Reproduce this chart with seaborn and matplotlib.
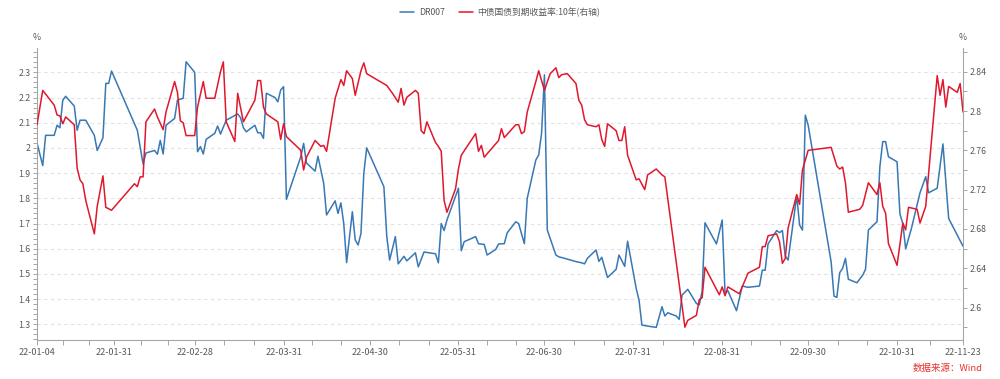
import pandas as pd
import numpy as np
import seaborn as sns
import matplotlib.pyplot as plt
import matplotlib.dates as mdates
import matplotlib.ticker as mticker

# ---- data (2022) ----
dr007_dates = ["01-04", "01-06", "01-07", "01-10", "01-11", "01-12", "01-13", "01-14", "01-17", "01-18",
               "01-19", "01-21", "01-24", "01-25", "01-27", "01-28", "01-29", "01-30", "02-08", "02-10",
               "02-11", "02-14", "02-15", "02-16", "02-17", "02-18", "02-21", "02-22", "02-24", "02-25",
               "02-28", "03-01", "03-02", "03-03", "03-04", "03-07", "03-08", "03-09", "03-11", "03-15",
               "03-16", "03-17", "03-18", "03-21", "03-22", "03-23", "03-24", "03-25", "03-28", "03-29",
               "03-30", "03-31", "04-01", "04-06", "04-07", "04-08", "04-11", "04-12", "04-14", "04-15",
               "04-18", "04-19", "04-20", "04-21", "04-22", "04-24", "04-25", "04-26", "04-27", "04-28",
               "04-29", "05-05", "05-06", "05-07", "05-09", "05-10", "05-12", "05-13", "05-16", "05-17",
               "05-19", "05-23", "05-24", "05-25", "05-26", "05-27", "05-31", "06-01", "06-02", "06-06",
               "06-07", "06-09", "06-10", "06-13", "06-14", "06-16", "06-17", "06-20", "06-21", "06-23",
               "06-24", "06-27", "06-28", "06-29", "06-30", "07-01", "07-04", "07-05", "07-07", "07-11",
               "07-13", "07-14", "07-15", "07-18", "07-19", "07-20", "07-22", "07-25", "07-26", "07-28",
               "07-29", "08-01", "08-02", "08-03", "08-05", "08-08", "08-10", "08-11", "08-12", "08-15",
               "08-16", "08-17", "08-19", "08-22", "08-23", "08-24", "08-25", "08-29", "08-31", "09-01",
               "09-02", "09-05", "09-07", "09-09", "09-13", "09-14", "09-15", "09-16", "09-19", "09-20",
               "09-21", "09-22", "09-23", "09-26", "09-27", "09-28", "09-29", "09-30", "10-08", "10-09",
               "10-10", "10-11", "10-12", "10-13", "10-14", "10-17", "10-19", "10-20", "10-21", "10-24",
               "10-25", "10-26", "10-27", "10-28", "10-31", "11-01", "11-02", "11-03", "11-05", "11-08",
               "11-10", "11-11", "11-14", "11-16", "11-18", "11-23"]
dr007_values = [2.02, 1.93, 2.05, 2.05, 2.09, 2.08, 2.19, 2.205, 2.166, 2.07,
                2.11, 2.11, 2.05, 1.99, 2.04, 2.256, 2.256, 2.305, 2.07, 1.936,
                1.98, 1.99, 1.975, 2.03, 1.976, 2.09, 2.117, 2.19, 2.197, 2.342,
                2.30, 1.985, 2.005, 1.976, 2.034, 2.058, 2.087, 2.055, 2.11, 2.135,
                2.12, 2.08, 2.064, 2.09, 2.06, 2.06, 2.038, 2.217, 2.20, 2.183,
                2.23, 2.243, 1.796, 1.965, 2.018, 1.94, 1.908, 1.967, 1.86, 1.734,
                1.79, 1.74, 1.782, 1.70, 1.545, 1.747, 1.635, 1.615, 1.66, 1.90,
                2.00, 1.846, 1.65, 1.555, 1.648, 1.54, 1.57, 1.552, 1.584, 1.528,
                1.587, 1.58, 1.544, 1.70, 1.672, 1.714, 1.84, 1.592, 1.628, 1.648,
                1.62, 1.617, 1.575, 1.597, 1.619, 1.62, 1.663, 1.707, 1.70, 1.62,
                1.80, 1.952, 1.972, 2.058, 2.29, 1.674, 1.575, 1.568, 1.562, 1.549,
                1.544, 1.54, 1.562, 1.595, 1.55, 1.566, 1.486, 1.518, 1.575, 1.53,
                1.63, 1.443, 1.396, 1.297, 1.293, 1.288, 1.37, 1.333, 1.346, 1.333,
                1.32, 1.416, 1.439, 1.383, 1.377, 1.43, 1.703, 1.619, 1.714, 1.423,
                1.433, 1.354, 1.452, 1.447, 1.452, 1.515, 1.515, 1.619, 1.672, 1.664,
                1.672, 1.571, 1.555, 1.81, 1.694, 1.674, 2.13, 2.09, 1.548, 1.412,
                1.407, 1.505, 1.522, 1.562, 1.479, 1.465, 1.495, 1.518, 1.674, 1.707,
                1.925, 2.025, 2.025, 1.965, 1.945, 1.738, 1.70, 1.60, 1.68, 1.822,
                1.886, 1.822, 1.84, 2.016, 1.72, 1.61]

bond_dates = ["01-04", "01-06", "01-10", "01-11", "01-12", "01-13", "01-14", "01-17", "01-18", "01-19",
              "01-20", "01-21", "01-24", "01-25", "01-27", "01-28", "01-30", "02-07", "02-08", "02-09",
              "02-10", "02-11", "02-14", "02-15", "02-17", "02-18", "02-21", "02-22", "02-23", "02-24",
              "02-25", "02-28", "03-01", "03-03", "03-04", "03-07", "03-09", "03-10", "03-11", "03-14",
              "03-15", "03-17", "03-21", "03-22", "03-23", "03-24", "03-25", "03-29", "03-30", "03-31",
              "04-01", "04-06", "04-07", "04-08", "04-11", "04-13", "04-14", "04-15", "04-18", "04-20",
              "04-21", "04-22", "04-24", "04-25", "04-27", "04-28", "04-29", "05-06", "05-08", "05-10",
              "05-11", "05-12", "05-13", "05-16", "05-17", "05-18", "05-19", "05-20", "05-23", "05-24",
              "05-25", "05-26", "05-27", "05-30", "05-31", "06-01", "06-06", "06-07", "06-08", "06-09",
              "06-14", "06-15", "06-16", "06-20", "06-21", "06-22", "06-23", "06-24", "06-27", "06-28",
              "06-30", "07-02", "07-04", "07-05", "07-06", "07-08", "07-11", "07-12", "07-13", "07-14",
              "07-15", "07-18", "07-19", "07-20", "07-21", "07-22", "07-25", "07-26", "07-27", "07-28",
              "07-29", "08-01", "08-02", "08-04", "08-05", "08-08", "08-10", "08-11", "08-18", "08-19",
              "08-22", "08-23", "08-24", "08-25", "08-30", "08-31", "09-01", "09-02", "09-06", "09-09",
              "09-13", "09-14", "09-15", "09-16", "09-19", "09-20", "09-21", "09-22", "09-23", "09-26",
              "09-27", "09-28", "09-30", "10-08", "10-10", "10-11", "10-12", "10-13", "10-14", "10-18",
              "10-19", "10-21", "10-24", "10-25", "10-26", "10-27", "10-28", "10-31", "11-02", "11-03",
              "11-04", "11-07", "11-08", "11-10", "11-14", "11-15", "11-16", "11-17", "11-18", "11-21",
              "11-22", "11-23"]
bond_values = [2.786, 2.821, 2.806, 2.796, 2.795, 2.787, 2.794, 2.786, 2.742, 2.730,
               2.726, 2.709, 2.675, 2.703, 2.734, 2.702, 2.699, 2.726, 2.723, 2.733,
               2.733, 2.789, 2.802, 2.794, 2.781, 2.799, 2.83, 2.819, 2.79, 2.788,
               2.775, 2.775, 2.804, 2.83, 2.813, 2.813, 2.84, 2.85, 2.789, 2.769,
               2.818, 2.789, 2.811, 2.831, 2.831, 2.804, 2.797, 2.789, 2.771, 2.787,
               2.774, 2.76, 2.74, 2.753, 2.77, 2.764, 2.765, 2.759, 2.813, 2.832,
               2.826, 2.841, 2.833, 2.816, 2.841, 2.849, 2.838, 2.826, 2.818, 2.809,
               2.823, 2.806, 2.814, 2.821, 2.818, 2.78, 2.777, 2.789, 2.768, 2.764,
               2.759, 2.709, 2.697, 2.721, 2.741, 2.755, 2.777, 2.759, 2.765, 2.753,
               2.77, 2.782, 2.773, 2.786, 2.786, 2.777, 2.779, 2.799, 2.83, 2.841,
               2.821, 2.838, 2.844, 2.834, 2.837, 2.838, 2.828, 2.811, 2.806, 2.791,
               2.786, 2.784, 2.786, 2.771, 2.764, 2.787, 2.78, 2.77, 2.77, 2.784,
               2.755, 2.73, 2.731, 2.72, 2.735, 2.741, 2.735, 2.733, 2.58, 2.587,
               2.592, 2.608, 2.61, 2.641, 2.613, 2.621, 2.612, 2.621, 2.614, 2.635,
               2.641, 2.662, 2.662, 2.673, 2.675, 2.667, 2.645, 2.65, 2.681, 2.715,
               2.705, 2.74, 2.76, 2.763, 2.744, 2.741, 2.743, 2.727, 2.697, 2.70,
               2.704, 2.727, 2.715, 2.727, 2.703, 2.696, 2.665, 2.643, 2.686, 2.679,
               2.702, 2.70, 2.686, 2.703, 2.836, 2.816, 2.832, 2.804, 2.825, 2.819,
               2.828, 2.799]

xtick_labels = ["22-01-04", "22-01-31", "22-02-28", "22-03-31", "22-04-30", "22-05-31",
                "22-06-30", "22-07-31", "22-08-31", "22-09-30", "22-10-31", "22-11-23"]

dr007_label = "DR007"
bond_label = "中债国债到期收益率:10年(右轴)"
source_text = "数据来源：Wind"

BLUE = "#3878b4"
RED = "#e0182e"
AXIS_GRAY = "#a6a6a6"
TEXT_GRAY = "#595959"

df_dr = pd.DataFrame({"date": pd.to_datetime(["2022-" + d for d in dr007_dates]), "value": dr007_values})
df_bond = pd.DataFrame({"date": pd.to_datetime(["2022-" + d for d in bond_dates]), "value": bond_values})

sns.set_theme(style="white")
plt.rcParams["font.family"] = ["Noto Sans CJK SC", "DejaVu Sans"]

fig = plt.figure(figsize=(10, 3.79), dpi=100)
ax = fig.add_axes([0.037, 0.103, 0.926, 0.770])
ax2 = ax.twinx()

sns.lineplot(data=df_dr, x="date", y="value", ax=ax, color=BLUE, linewidth=1.1,
             estimator=None, label=dr007_label)
sns.lineplot(data=df_bond, x="date", y="value", ax=ax2, color=RED, linewidth=1.1,
             estimator=None, label=bond_label)

# legend on top, centred
h1, l1 = ax.get_legend_handles_labels()
h2, l2 = ax2.get_legend_handles_labels()
for a in (ax, ax2):
    if a.get_legend() is not None:
        a.get_legend().remove()
fig.legend(h1 + h2, l1 + l2, loc="upper center", bbox_to_anchor=(0.5, 1.0), ncol=2,
           frameon=False, fontsize=6.3, handlelength=1.6, columnspacing=1.6,
           handletextpad=0.5, labelcolor=TEXT_GRAY)

# x axis
major_dates = pd.to_datetime(["20" + s for s in xtick_labels])
ax.set_xlim(major_dates[0], major_dates[-1])
ax.set_xticks(major_dates)
ax.set_xticklabels(xtick_labels)
minor = []
for a, b in zip(major_dates[:-1], major_dates[1:]):
    span = (b - a).days
    if span >= 27:
        minor += [a + pd.Timedelta(days=span / 3), a + pd.Timedelta(days=2 * span / 3)]
    else:
        minor += [a + pd.Timedelta(days=span / 2)]
ax.set_xticks(mdates.date2num(minor), minor=True)
ax.set_xlabel("")

# left axis
ax.set_ylim(1.238, 2.396)
ax.yaxis.set_major_locator(mticker.MultipleLocator(0.1))
ax.yaxis.set_minor_locator(mticker.MultipleLocator(0.02))
ax.yaxis.set_major_formatter(mticker.FormatStrFormatter("%g"))
ax.set_ylabel("")

# right axis
ax2.set_ylim(2.567, 2.864)
ax2.yaxis.set_major_locator(mticker.MultipleLocator(0.04))
ax2.yaxis.set_minor_locator(mticker.MultipleLocator(0.02))
ax2.yaxis.set_major_formatter(mticker.FormatStrFormatter("%g"))
ax2.set_ylabel("")

ax.yaxis.grid(True, which="major", linestyle=(0, (3, 3)), color="#e2e2e2", linewidth=0.8)
ax.xaxis.grid(False)
ax.set_axisbelow(True)

for s in ["top", "right"]:
    ax.spines[s].set_visible(False)
for s in ["top", "left", "bottom"]:
    ax2.spines[s].set_visible(False)
for s in ["left", "bottom"]:
    ax.spines[s].set_color(AXIS_GRAY)
    ax.spines[s].set_linewidth(0.8)
ax2.spines["right"].set_color(AXIS_GRAY)
ax2.spines["right"].set_linewidth(0.8)

ax.tick_params(axis="x", which="both", direction="out", length=3.5, width=0.7, color=AXIS_GRAY,
               labelsize=6.5, labelcolor=TEXT_GRAY, pad=2.5, bottom=True)
ax.tick_params(axis="y", which="both", direction="out", length=3, width=0.7, color=AXIS_GRAY,
               labelsize=6.3, labelcolor=TEXT_GRAY, pad=1.5, left=True)
ax2.tick_params(axis="y", which="both", direction="out", length=3, width=0.7, color=AXIS_GRAY,
                labelsize=6.3, labelcolor=TEXT_GRAY, pad=1.5, right=True)

# unit labels and source
fig.text(0.037, 1 - 37 / 379, "%", ha="center", va="center", fontsize=6.3, color=TEXT_GRAY)
fig.text(0.963, 1 - 37 / 379, "%", ha="center", va="center", fontsize=6.3, color=TEXT_GRAY)
fig.text(0.983, 1 - 368 / 379, source_text, ha="right", va="center", fontsize=6.8, color="#e8312f")

fig.savefig("out.png", dpi=100)
